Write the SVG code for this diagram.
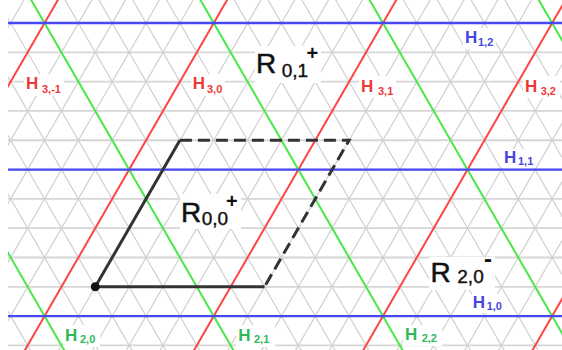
<svg xmlns="http://www.w3.org/2000/svg" xmlns:xlink="http://www.w3.org/1999/xlink" width="562" height="350" viewBox="0 0 562 350">
<style>
.gh{stroke:#d6d6d6;stroke-width:1.8;fill:none}
.gd{stroke:#d0d0d0;stroke-width:1.2;fill:none}
.red{stroke:#ff4545;stroke-width:2;fill:none}
.grn{stroke:#4ae84a;stroke-width:2;fill:none}
.blu{stroke:#4848f2;stroke-width:2.4;fill:none}
.solid{stroke:#333;stroke-width:3;fill:none;stroke-linejoin:round}
.dash{stroke:#333;stroke-width:3;fill:none;stroke-dasharray:12 6}
.bg{fill:#fff}
text{font-family:"Liberation Sans",Arial,sans-serif}
.H{font-size:17px;font-weight:bold}
.s{font-size:11px;font-weight:bold}
.tr{fill:#ee3838}.tb{fill:#4646e0}.tg{fill:#2fb85a}
.R{font-size:28px;fill:#111;stroke:#111;stroke-width:0.5}
.rs{font-size:19px;fill:#111;stroke:#111;stroke-width:0.4}
.rp{font-size:20px;fill:#111;font-weight:bold}
</style>
<defs>
<clipPath id="clip"><rect x="8" y="0" width="554" height="350"/></clipPath>
<line id="ur" x1="266.67" y1="-10" x2="53.04" y2="360"/>
<line id="ul" x1="-76.07" y1="-10" x2="137.56" y2="360"/>
</defs>
<g id="grid" clip-path="url(#clip)">
<g class="gh">
<line x1="0" y1="345.41" x2="562" y2="345.41"/>
<line x1="0" y1="316.11" x2="562" y2="316.11"/>
<line x1="0" y1="286.8" x2="562" y2="286.8"/>
<line x1="0" y1="257.49" x2="562" y2="257.49"/>
<line x1="0" y1="228.19" x2="562" y2="228.19"/>
<line x1="0" y1="198.88" x2="562" y2="198.88"/>
<line x1="0" y1="169.58" x2="562" y2="169.58"/>
<line x1="0" y1="140.27" x2="562" y2="140.27"/>
<line x1="0" y1="110.96" x2="562" y2="110.96"/>
<line x1="0" y1="81.66" x2="562" y2="81.66"/>
<line x1="0" y1="52.35" x2="562" y2="52.35"/>
<line x1="0" y1="23.05" x2="562" y2="23.05"/>
</g>
<g class="gd">
<use xlink:href="#ur" x="-236.88"/><use xlink:href="#ur" x="-203.04"/><use xlink:href="#ur" x="-169.2"/><use xlink:href="#ur" x="-135.36"/><use xlink:href="#ur" x="-101.52"/><use xlink:href="#ur" x="-67.68"/><use xlink:href="#ur" x="-33.84"/><use xlink:href="#ur" x="0"/><use xlink:href="#ur" x="33.84"/><use xlink:href="#ur" x="67.68"/><use xlink:href="#ur" x="101.52"/><use xlink:href="#ur" x="135.36"/><use xlink:href="#ur" x="169.2"/><use xlink:href="#ur" x="203.04"/><use xlink:href="#ur" x="236.88"/><use xlink:href="#ur" x="270.72"/><use xlink:href="#ur" x="304.56"/><use xlink:href="#ur" x="338.4"/><use xlink:href="#ur" x="372.24"/><use xlink:href="#ur" x="406.08"/><use xlink:href="#ur" x="439.92"/><use xlink:href="#ur" x="473.76"/>
<use xlink:href="#ul" x="-101.52"/><use xlink:href="#ul" x="-67.68"/><use xlink:href="#ul" x="-33.84"/><use xlink:href="#ul" x="0"/><use xlink:href="#ul" x="33.84"/><use xlink:href="#ul" x="67.68"/><use xlink:href="#ul" x="101.52"/><use xlink:href="#ul" x="135.36"/><use xlink:href="#ul" x="169.2"/><use xlink:href="#ul" x="203.04"/><use xlink:href="#ul" x="236.88"/><use xlink:href="#ul" x="270.72"/><use xlink:href="#ul" x="304.56"/><use xlink:href="#ul" x="338.4"/><use xlink:href="#ul" x="372.24"/><use xlink:href="#ul" x="406.08"/><use xlink:href="#ul" x="439.92"/><use xlink:href="#ul" x="473.76"/><use xlink:href="#ul" x="507.6"/><use xlink:href="#ul" x="541.44"/><use xlink:href="#ul" x="575.28"/><use xlink:href="#ul" x="609.12"/>
</g>
</g>
<g id="connectors" clip-path="url(#clip)">
<g class="red">
<use xlink:href="#ur" x="-203.04"/><use xlink:href="#ur" x="-33.84"/><use xlink:href="#ur" x="135.36"/><use xlink:href="#ur" x="304.56"/><use xlink:href="#ur" x="473.76"/>
</g>
<g class="grn">
<use xlink:href="#ul" x="-67.68"/><use xlink:href="#ul" x="101.52"/><use xlink:href="#ul" x="270.72"/><use xlink:href="#ul" x="439.92"/><use xlink:href="#ul" x="609.12"/>
</g>
<g class="blu">
<line x1="0" y1="316.11" x2="562" y2="316.11"/>
<line x1="0" y1="169.58" x2="562" y2="169.58"/>
<line x1="0" y1="23.05" x2="562" y2="23.05"/>
</g>
<polyline class="solid" points="264.5,286.8 95.3,286.8 179.9,140.27"/>
<polyline class="dash" points="179.9,140.27 349.1,140.27 264.5,286.8"/>
<circle cx="95.3" cy="286.8" r="4.5" fill="#111"/>
</g>
<g id="H3m1"><rect class="bg" x="24" y="74" width="40" height="22"/><text class="H tr" x="26" y="89">H</text><text class="s tr" x="42" y="92.7">3,-1</text></g>
<g id="H30"><rect class="bg" x="191" y="74" width="34" height="22"/><text class="H tr" x="192.7" y="89">H</text><text class="s tr" x="207" y="92.5">3,0</text></g>
<g id="H31"><rect class="bg" x="359" y="76" width="37" height="22"/><text class="H tr" x="361" y="91.5">H</text><text class="s tr" x="378" y="94.5">3,1</text></g>
<g id="H32"><rect class="bg" x="523" y="76" width="37" height="22"/><text class="H tr" x="525" y="91.5">H</text><text class="s tr" x="540.7" y="94.5">3,2</text></g>
<g id="H12"><rect class="bg" x="463" y="28" width="33" height="21"/><text class="H tb" x="465" y="42.7">H</text><text class="s tb" x="478" y="45.5">1,2</text></g>
<g id="H11"><rect class="bg" x="502" y="149" width="34" height="19"/><text class="H tb" x="504" y="163.3">H</text><text class="s tb" x="518" y="165">1,1</text></g>
<g id="H10"><rect class="bg" x="471" y="294" width="34" height="19"/><text class="H tb" x="472.7" y="308.3">H</text><text class="s tb" x="486.7" y="310">1,0</text></g>
<g id="H20"><rect class="bg" x="63" y="325" width="37" height="22"/><text class="H tg" x="65" y="341">H</text><text class="s tg" x="80" y="343">2,0</text></g>
<g id="H21"><rect class="bg" x="236" y="325" width="39" height="22"/><text class="H tg" x="238.3" y="341">H</text><text class="s tg" x="254" y="343">2,1</text></g>
<g id="H22"><rect class="bg" x="403" y="325" width="39" height="21"/><text class="H tg" x="405" y="340">H</text><text class="s tg" x="421.7" y="341.7">2,2</text></g>
<g id="R01"><rect class="bg" x="255" y="46" width="66" height="37"/><text class="R" x="256" y="73.3">R</text><text class="rs" x="281.7" y="76.7">0,1</text><text class="rp" x="306.5" y="60.4">+</text></g>
<g id="R00"><rect class="bg" x="180" y="194" width="61" height="35"/><text class="R" x="181" y="221.7">R</text><text class="rs" x="201.7" y="225">0,0</text><text class="rp" x="226" y="208.4">+</text></g>
<g id="R20"><rect class="bg" x="429" y="257" width="66" height="33"/><text class="R" x="430.5" y="281.7">R</text><text class="rs" x="457.3" y="283">2,0</text><text class="rp" x="484" y="267" style="font-size:24px">-</text></g>
</svg>
